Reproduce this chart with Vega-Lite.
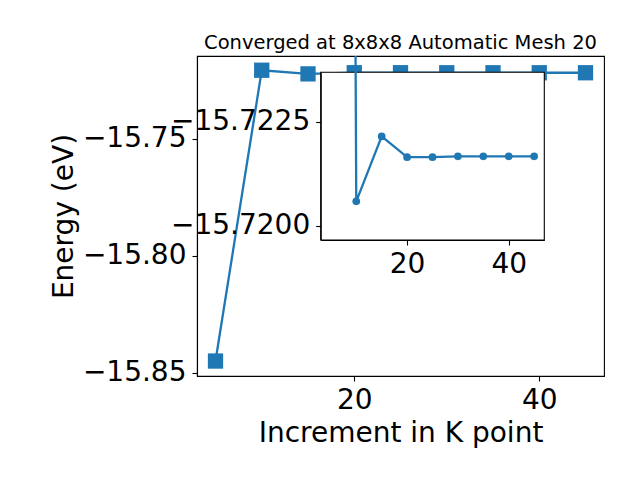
{
  "$schema": "https://vega.github.io/schema/vega-lite/v6.json",
  "width": 407,
  "height": 320,
  "autosize": {"type": "none"},
  "padding": {"left": 197, "top": 56, "right": 36, "bottom": 104},
  "background": "white",
  "title": {
    "text": "Converged at 8x8x8 Automatic Mesh 20",
    "font": "DejaVu Sans",
    "fontSize": 19.5,
    "fontWeight": "normal",
    "color": "black",
    "anchor": "middle",
    "frame": "group",
    "baseline": "alphabetic",
    "offset": 8,
    "dy": 20.5
  },
  "config": {
    "view": {"stroke": "black", "strokeWidth": 1.1},
    "font": "DejaVu Sans",
    "axis": {
      "grid": false,
      "labelFont": "DejaVu Sans",
      "labelFontSize": 28,
      "labelColor": "black",
      "titleFont": "DejaVu Sans",
      "titleFontSize": 28,
      "titleFontWeight": "normal",
      "titleColor": "black",
      "tickColor": "black",
      "tickSize": 5,
      "tickWidth": 1.1,
      "domainColor": "black",
      "domainWidth": 1.1,
      "labelPadding": 5,
      "labelFlush": false,
      "labelOverlap": false
    }
  },
  "datasets": {
    "kpts": [
      {"k": 5, "e": -15.845},
      {"k": 10, "e": -15.72059},
      {"k": 15, "e": -15.72215},
      {"k": 20, "e": -15.72165},
      {"k": 25, "e": -15.72165},
      {"k": 30, "e": -15.72167},
      {"k": 35, "e": -15.72167},
      {"k": 40, "e": -15.72167},
      {"k": 45, "e": -15.72167}
    ]
  },
  "data": {"name": "kpts"},
  "layer": [
    {
      "encoding": {
        "x": {
          "field": "k",
          "type": "quantitative",
          "scale": {"domain": [3, 47], "nice": false, "zero": false},
          "axis": {
            "orient": "bottom",
            "values": [20, 40],
            "title": "Increment in K point",
            "titleX": 203.5,
            "titleY": 65,
            "titleAlign": "center",
            "titleBaseline": "alphabetic"
          }
        },
        "y": {
          "field": "e",
          "type": "quantitative",
          "scale": {"domain": [-15.8514, -15.7145], "nice": false, "zero": false},
          "axis": {
            "orient": "left",
            "values": [-15.85, -15.8, -15.75],
            "format": ".2f",
            "labelPadding": 6,
            "title": "Energy (eV)",
            "titleAngle": -90,
            "titleX": -124.7,
            "titleY": 160,
            "titleAlign": "center",
            "titleBaseline": "alphabetic"
          }
        }
      },
      "layer": [
        {"mark": {"type": "line", "color": "#1f77b4", "strokeWidth": 2.3}},
        {"mark": {"type": "point", "shape": "square", "filled": true, "size": 234, "color": "#1f77b4", "opacity": 1}}
      ]
    },
    {
      "data": {"values": [{}]},
      "mark": {"type": "rect", "fill": "white", "stroke": "black", "strokeWidth": 1.1},
      "encoding": {
        "x": {"datum": 3, "type": "quantitative", "axis": null,
              "scale": {"domain": [3, 47], "range": [123.7, 347.3], "nice": false, "zero": false}},
        "x2": {"datum": 47},
        "y": {"datum": -15.72369, "type": "quantitative", "axis": null,
              "scale": {"domain": [-15.72369, -15.71966], "range": [16.3, 184], "nice": false, "zero": false}},
        "y2": {"datum": -15.71966}
      }
    },
    {
      "encoding": {
        "x": {
          "field": "k",
          "type": "quantitative",
          "scale": {"domain": [3, 47], "range": [123.7, 347.3], "nice": false, "zero": false},
          "axis": {"orient": "bottom", "values": [20, 40], "title": null, "offset": -136, "zindex": 1}
        },
        "y": {
          "field": "e",
          "type": "quantitative",
          "scale": {"domain": [-15.72369, -15.71966], "range": [16.3, 184], "nice": false, "zero": false},
          "axis": {"orient": "left", "values": [-15.7225, -15.72], "format": ".4f", "labelPadding": 6, "title": null, "offset": -123.7, "zindex": 1}
        }
      },
      "layer": [
        {"mark": {"type": "line", "color": "#1f77b4", "strokeWidth": 2.3, "clip": true}},
        {
          "transform": [{"filter": "datum.k >= 10"}],
          "mark": {"type": "point", "shape": "circle", "filled": true, "size": 59, "color": "#1f77b4", "opacity": 1}
        }
      ]
    }
  ],
  "resolve": {
    "scale": {"x": "independent", "y": "independent"},
    "axis": {"x": "independent", "y": "independent"}
  }
}
